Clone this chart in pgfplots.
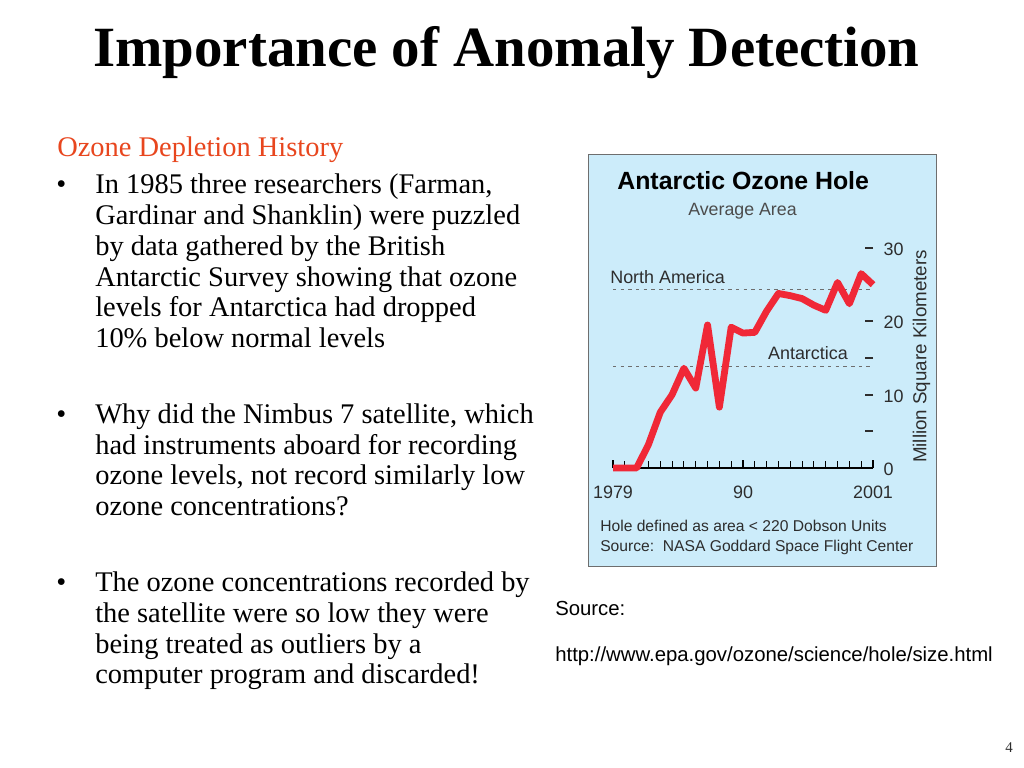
\documentclass[border=0pt]{standalone}
\usepackage{fontspec}
\setmainfont{Liberation Serif}
\newfontfamily\sans{Liberation Sans}
\usepackage{pgfplots}
\pgfplotsset{compat=1.18}
\definecolor{ozred}{RGB}{240,40,55}
\definecolor{chartbg}{RGB}{204,236,250}
\definecolor{headred}{RGB}{232,70,30}
\definecolor{txtgray}{RGB}{45,45,45}
\definecolor{dashgray}{RGB}{110,110,110}
\pgfplotstableread{
year area
1979 0
1980 0
1981 0
1982 3.2
1983 7.6
1984 10.0
1985 13.6
1986 10.9
1987 19.5
1988 8.3
1989 19.2
1990 18.4
1991 18.5
1992 21.4
1993 23.8
1994 23.5
1995 23.1
1996 22.2
1997 21.5
1998 25.3
1999 22.4
2000 26.5
2001 25.0
}\ozone
\newcommand{\bl}[2]{\node[anchor=base west,inner sep=0pt,font=\fontsize{20}{22}\selectfont] at (95,#1) {#2};}
\newcommand{\bul}[1]{\node[anchor=base west,inner sep=0pt,font=\fontsize{20}{22}\selectfont] at (56,#1) {\char"2022};}
\begin{document}
\begin{tikzpicture}[x=0.703125pt,y=-0.703125pt]
\path[fill=white,use as bounding box] (0,0) rectangle (1024,768);
% title
\node[anchor=base west,inner sep=0pt,font=\fontsize{40}{44}\selectfont\bfseries] at (93,67) {Importance of Anomaly Detection};
% heading
\node[anchor=base west,inner sep=0pt,font=\fontsize{20}{22}\selectfont,text=headred] at (57,156.7) {Ozone Depletion History};
% bullet 1
\bul{194}
\bl{194}{In 1985 three researchers (Farman,}
\bl{224.7}{Gardinar and Shanklin) were puzzled}
\bl{255.4}{by data gathered by the British}
\bl{286.1}{Antarctic Survey showing that ozone}
\bl{316.8}{levels for Antarctica had dropped}
\bl{347.5}{10\% below normal levels}
% bullet 2
\bul{423.3}
\bl{423.3}{Why did the Nimbus 7 satellite, which}
\bl{454}{had instruments aboard for recording}
\bl{484.7}{ozone levels, not record similarly low}
\bl{515.4}{ozone concentrations?}
% bullet 3
\bul{591.7}
\bl{591.7}{The ozone concentrations recorded by}
\bl{622.4}{the satellite were so low they were}
\bl{653.1}{being treated as outliers by a}
\bl{683.8}{computer program and discarded!}
% source
\node[anchor=base west,inner sep=0pt,font=\sans\fontsize{14.3}{16}\selectfont] at (555,615) {Source:};
\node[anchor=base west,inner sep=0pt,font=\sans\fontsize{14.3}{16}\selectfont] at (555,661.7) {http://www.epa.gov/ozone/science/hole/size.html};
% page number
\node[anchor=base east,inner sep=0pt,font=\fontsize{10.5}{12}\selectfont,text=txtgray] at (1013,752.5) {4};
% chart panel
\draw[fill=chartbg,draw=dashgray,line width=0.6pt] (588,154) rectangle (936,566);
\node[anchor=base west,inner sep=0pt,font=\sans\bfseries\fontsize{17.5}{19}\selectfont] at (617,190) {Antarctic Ozone Hole};
\node[anchor=base west,inner sep=0pt,font=\sans\fontsize{12.5}{14}\selectfont,text=txtgray!85] at (688,215.7) {Average Area};
\node[anchor=base west,inner sep=0pt,font=\sans\fontsize{11}{13}\selectfont,text=txtgray] at (600,531.7) {Hole defined as area < 220 Dobson Units};
\node[anchor=base west,inner sep=0pt,font=\sans\fontsize{11}{13}\selectfont,text=txtgray] at (600,551.7) {Source:\ \ NASA Goddard Space Flight Center};
\node[rotate=90,inner sep=0pt,font=\sans\fontsize{13.2}{15}\selectfont,text=txtgray] at (921.5,356.5) {Million Square Kilometers};
\begin{scope}[x=1pt,y=1pt]
\begin{axis}[
  at={(431.015625pt,-329.0625pt)}, anchor=south west, scale only axis,
  width=182.8125pt, height=154.6875pt,
  xmin=1979, xmax=2001, ymin=0, ymax=30, clip=false,
  axis x line=bottom, axis y line=right,
  x axis line style={-, black, line width=1.1pt},
  y axis line style={draw=none},
  xtick={1979,1990,2001}, xticklabels={1979,90,2001},
  minor xtick={1980,1981,...,2000},
  ytick={0,5,10,15,20,30}, yticklabels={0,,10,,20,30},
  tick align=inside,
  major tick length=5.4pt, minor tick length=4.6pt,
  xtick style={black, line width=0.8pt},
  ytick style={txtgray, line width=1.4pt},
  tick label style={font=\sans\fontsize{12.6}{14}\selectfont, text=txtgray},
  xticklabel style={yshift=-9pt},
  yticklabel style={anchor=west, xshift=4pt, yshift=-1pt},
]
\addplot[dashgray, line width=0.6pt, dash pattern=on 2.4pt off 3pt] coordinates {(1979,24.3) (2001,24.3)};
\addplot[dashgray, line width=0.6pt, dash pattern=on 2.4pt off 3pt] coordinates {(1979,13.8) (2001,13.8)};
\addplot[ozred, line width=4.8pt, line join=round] table[x=year,y=area] {\ozone};
\node[anchor=base west,inner sep=0pt,font=\sans\fontsize{12.6}{14}\selectfont,text=txtgray] at (axis cs:1978.75,25.1) {North America};
\node[anchor=base west,inner sep=0pt,font=\sans\fontsize{12.6}{14}\selectfont,text=txtgray] at (axis cs:1992.1,14.8) {Antarctica};
\end{axis}
\end{scope}
\end{tikzpicture}
\end{document}
